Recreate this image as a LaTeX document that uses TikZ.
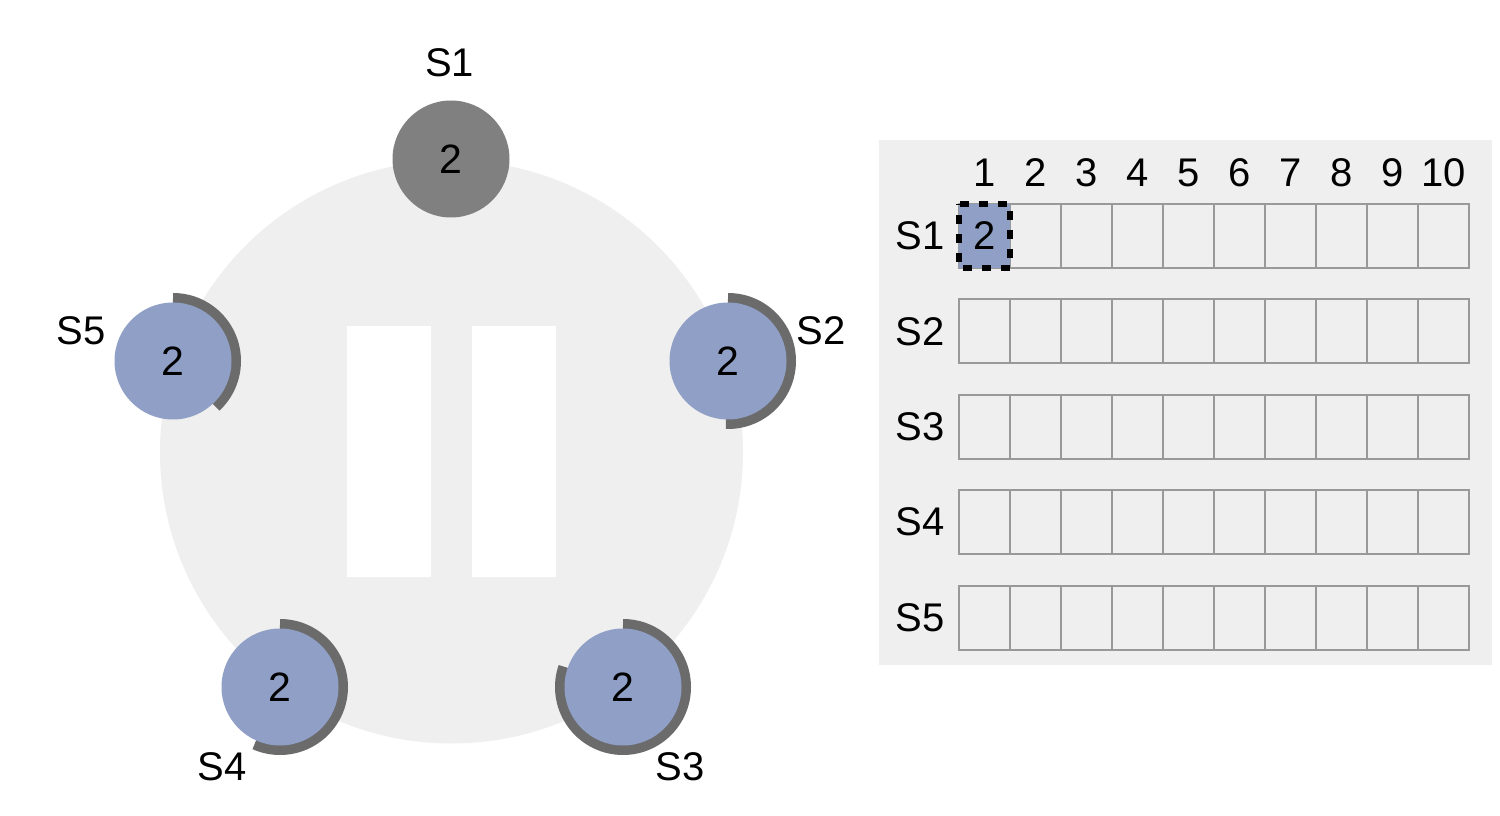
\documentclass[tikz,border=0pt]{standalone}
\usepackage{fontspec}
\setmainfont{Liberation Sans}
\definecolor{panelgrey}{HTML}{EFEFEF}
\definecolor{nodeblue}{HTML}{8F9FC6}
\definecolor{leadgrey}{HTML}{808080}
\definecolor{ringgrey}{HTML}{6B6B6B}
\definecolor{cellline}{HTML}{999999}
\tikzset{
  lbl/.style={inner sep=0pt,font=\fontsize{40}{48}\selectfont,text=black},
  server/.style={circle,draw=none,fill=nodeblue,minimum size=117pt,inner sep=0pt,font=\fontsize{41}{48}\selectfont,text=black},
  ring/.style={draw=ringgrey,line width=11pt},
  cellbox/.style={draw=cellline,line width=2pt},
}
\begin{document}
\begin{tikzpicture}[x=1pt,y=1pt]
\useasboundingbox (0,0) rectangle (1500,815);
\fill[white] (0,0) rectangle (1500,815);
% ring background
\fill[panelgrey] (451.5,363) circle[radius=291.5pt];
\fill[white] (347,238.5) rectangle (431,489);
\fill[white] (472,238.5) rectangle (555.5,489);
% progress arcs
\coordinate (c2) at (728,454);
\coordinate (c3) at (623,128);
\coordinate (c4) at (280,128);
\coordinate (c5) at (173,454);
\draw[ring] (c2) ++(90:62.5pt) arc[start angle=90,end angle=-92,radius=62.5pt];
\draw[ring] (c3) ++(90:62.5pt) arc[start angle=90,end angle=-199,radius=62.5pt];
\draw[ring] (c4) ++(90:62.5pt) arc[start angle=90,end angle=-114,radius=62.5pt];
\draw[ring] (c5) ++(90:62.5pt) arc[start angle=90,end angle=-47,radius=62.5pt];
% servers
\node[server,fill=leadgrey] (n1) at (451,656) {\raisebox{-1pt}{2}};
\node[server] (n2) at (c2) {\raisebox{-1pt}{2}};
\node[server] (n3) at (c3) {\raisebox{-1pt}{2}};
\node[server] (n4) at (c4) {\raisebox{-1pt}{2}};
\node[server] (n5) at (c5) {\raisebox{-1pt}{2}};
\node[lbl] (l1) at (449.5,752) {S1};
\node[lbl] (l2) at (821,484) {S2};
\node[lbl] (l3) at (680,48) {S3};
\node[lbl] (l4) at (222,48) {S4};
\node[lbl] (l5) at (81,484) {S5};
% log panel
\fill[panelgrey] (879,150) rectangle (1492,675);
\foreach \n in {1,...,10} {
  \node[lbl] (h\n) at ({984.5+51*(\n-1)},642) {\n};
}
\foreach \r/\y in {1/579,2/483.5,3/388,4/293,5/197} {
  \node[lbl] (r\r) at (920,\y) {S\r};
  \foreach \c in {1,...,10} {
    \draw[cellbox] ({959+51*(\c-1)},{\y-32}) rectangle ({959+51*\c},{\y+32});
  }
}
\fill[nodeblue] (959,547) rectangle (1010,611);
\node[lbl] (v) at (984.5,579) {2};
\draw[black,line width=5.5pt,dash pattern=on 9pt off 10pt] (960,611) -- (1010,611) -- (1010,547) -- (959,547) -- (959,611);
\end{tikzpicture}
\end{document}
